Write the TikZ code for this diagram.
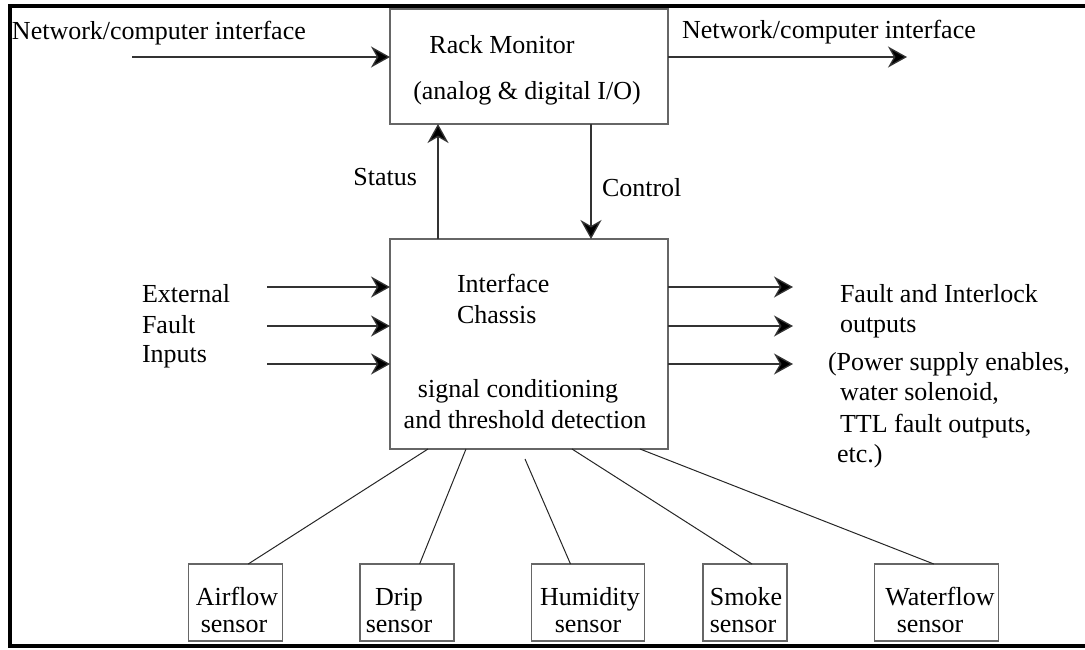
\documentclass[tikz,border=0pt]{standalone}
\usepackage{fontspec}
\setmainfont{Liberation Serif}
\usetikzlibrary{arrows.meta,calc}
\begin{document}
\begin{tikzpicture}[x=1pt,y=-1pt,
  box/.style={draw=black!60,line width=1.3pt,inner sep=0pt,outer sep=0pt},
  lbl/.style={inner sep=0pt,outer sep=0pt,font=\fontsize{26}{30}\selectfont},
  arr/.style={draw=black!80,line width=1.3pt,-{Stealth[length=19pt,width=21pt,inset=6pt,fill=black]}},
  wire/.style={draw=black!85,line width=1pt}]
\useasboundingbox (0,0) rectangle (1085,649);
% frame
\draw[line width=4.5pt] (1085,6) -- (10,6) -- (10,646) -- (1085,646);

% main boxes
\node[box,minimum width=278pt,minimum height=115pt] (rack) at (529,66.5) {};
\node[box,minimum width=278pt,minimum height=210pt] (ch) at (529,344) {};

\node[lbl,anchor=base] (rackt1) at (502,53) {Rack Monitor};
\node[lbl,anchor=base] (rackt2) at (527,99) {(analog \& digital I/O)};
\node[lbl,anchor=base west] (cht1) at (457,292) {Interface};
\node[lbl,anchor=base west] (cht2) at (457,323) {Chassis};
\node[lbl,anchor=base] (cht3) at (518,397) {signal conditioning};
\node[lbl,anchor=base] (cht4) at (525,428) {and threshold detection};

% network arrows
\coordinate (netin) at (132,57);
\coordinate (netout) at (907,57);
\draw[arr] (netin) -- (netin -| rack.west);
\draw[arr] (rack.east |- netout) -- (netout);
\node[lbl,anchor=base west] (netinl) at (12,39) {Network/computer interface};
\node[lbl,anchor=base west] (netoutl) at (682,38) {Network/computer interface};

% status / control
\coordinate (stx) at (438,180);
\coordinate (ctx) at (591,180);
\draw[arr] (stx |- ch.north) -- (stx |- rack.south);
\draw[arr] (ctx |- rack.south) -- (ctx |- ch.north);
\node[lbl,anchor=base east] (stl) at (417,185) {Status};
\node[lbl,anchor=base west] (ctl) at (602,196) {Control};

% inputs
\coordinate (in1) at (267,287);
\coordinate (in2) at (267,326);
\coordinate (in3) at (267,364);
\draw[arr] (in1) -- (in1 -| ch.west);
\draw[arr] (in2) -- (in2 -| ch.west);
\draw[arr] (in3) -- (in3 -| ch.west);
\node[lbl,anchor=base west] (inl1) at (142,302) {External};
\node[lbl,anchor=base west] (inl2) at (142,333) {Fault};
\node[lbl,anchor=base west] (inl3) at (142,362) {Inputs};

% outputs
\coordinate (out1) at (793,287);
\coordinate (out2) at (793,326);
\coordinate (out3) at (793,364);
\draw[arr] (ch.east |- out1) -- (out1);
\draw[arr] (ch.east |- out2) -- (out2);
\draw[arr] (ch.east |- out3) -- (out3);
\node[lbl,anchor=base west] (outl1) at (840,302) {Fault and Interlock};
\node[lbl,anchor=base west] (outl2) at (840,332) {outputs};
\node[lbl,anchor=base west] (outl3) at (828,370) {(Power supply enables,};
\node[lbl,anchor=base west] (outl4) at (840,400) {water solenoid,};
\node[lbl,anchor=base west] (outl5) at (840,432) {TTL fault outputs,};
\node[lbl,anchor=base west] (outl6) at (837,462) {etc.)};

% sensors
\node[box,minimum width=94pt,minimum height=77pt] (air) at (235.6,602.5) {};
\node[box,minimum width=94pt,minimum height=77pt] (drip) at (407,602.5) {};
\node[box,minimum width=113pt,minimum height=77pt] (hum) at (588.2,602.5) {};
\node[box,minimum width=84pt,minimum height=77pt] (smoke) at (745.1,602.5) {};
\node[box,minimum width=124pt,minimum height=77pt] (water) at (936.2,602.5) {};

\node[lbl,anchor=base] (airt1) at (237,605) {Airflow};
\node[lbl,anchor=base] (airt2) at (234,632) {sensor};
\node[lbl,anchor=base] (dript1) at (399,605) {Drip};
\node[lbl,anchor=base] (dript2) at (399,632) {sensor};
\node[lbl,anchor=base] (humt1) at (590,605) {Humidity};
\node[lbl,anchor=base] (humt2) at (588,632) {sensor};
\node[lbl,anchor=base] (smoket1) at (746,605) {Smoke};
\node[lbl,anchor=base] (smoket2) at (743,632) {sensor};
\node[lbl,anchor=base] (watert1) at (940,605) {Waterflow};
\node[lbl,anchor=base] (watert2) at (930,632) {sensor};

% sensor wires
\draw[wire] ($(ch.south west)+(38,0)$) -- ($(air.north west)+(59.6,0)$);
\draw[wire] ($(ch.south west)+(76,0)$) -- ($(drip.north west)+(59.6,0)$);
\draw[wire] ($(ch.south west)+(135,10)$) -- ($(hum.north west)+(38.8,0)$);
\draw[wire] ($(ch.south west)+(182,0)$) -- ($(smoke.north west)+(48.9,0)$);
\draw[wire] ($(ch.south west)+(250,0)$) -- ($(water.north west)+(59.6,0)$);
\end{tikzpicture}
\end{document}
